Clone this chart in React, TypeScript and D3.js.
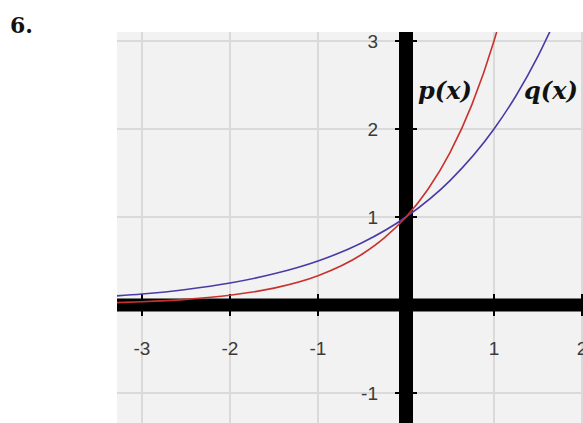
import React from "react";
import * as d3 from "d3";

// readings
const xTicks = [-3, -2, -1, 1, 2];
const yTicks = [-1, 1, 2, 3];
const gridX = [-3, -2, -1, 0, 1, 2];
const gridY = [-1, 0, 1, 2, 3];

const pX = [-3.3, -3, -2.5, -2, -1.5, -1, -0.5, -0.25, 0, 0.25, 0.5, 0.75, 1, 1.05];
const pY = [0.027, 0.037, 0.064, 0.111, 0.192, 0.333, 0.577, 0.76, 1, 1.316, 1.732, 2.28, 3, 3.17];

const qX = [-3.3, -3, -2.5, -2, -1.5, -1, -0.5, 0, 0.5, 1, 1.25, 1.5, 1.66];
const qY = [0.102, 0.125, 0.177, 0.25, 0.354, 0.5, 0.707, 1, 1.414, 2, 2.378, 2.828, 3.16];

const W = 583;
const H = 423;
const plot = { left: 117, top: 32, right: 583, bottom: 423 };

export default function App() {
  const x = d3.scaleLinear().domain([0, 1]).range([406, 494]);
  const y = d3.scaleLinear().domain([0, 1]).range([305, 217]);

  const line = d3
    .line<[number, number]>()
    .x(d => x(d[0]))
    .y(d => y(d[1]))
    .curve(d3.curveMonotoneX);

  const pData = pX.map((v, i) => [v, pY[i]] as [number, number]);
  const qData = qX.map((v, i) => [v, qY[i]] as [number, number]);

  const tickFont = "'Liberation Sans', Arial, sans-serif";

  return (
    <svg
      width={W}
      height={H}
      style={{ position: "absolute", left: 0, top: 0, background: "#fff" }}
    >
      <defs>
        <clipPath id="plotClip">
          <rect
            x={plot.left}
            y={plot.top}
            width={plot.right - plot.left}
            height={plot.bottom - plot.top}
          />
        </clipPath>
      </defs>

      <text
        x={10}
        y={33}
        fontFamily="'DejaVu Serif', serif"
        fontWeight="bold"
        fontSize={22}
        fill="#111"
      >
        6.
      </text>

      <g clipPath="url(#plotClip)">
        <rect
          x={plot.left}
          y={plot.top}
          width={plot.right - plot.left}
          height={plot.bottom - plot.top}
          fill="#f2f2f2"
        />
        {gridX.map(t => (
          <line
            key={"gx" + t}
            x1={x(t)}
            x2={x(t)}
            y1={plot.top}
            y2={plot.bottom}
            stroke="#dadada"
            strokeWidth={2}
          />
        ))}
        {gridY.map(t => (
          <line
            key={"gy" + t}
            x1={plot.left}
            x2={plot.right}
            y1={y(t)}
            y2={y(t)}
            stroke="#dadada"
            strokeWidth={2}
          />
        ))}

        {/* thick axes */}
        <line x1={plot.left} x2={plot.right} y1={y(0)} y2={y(0)} stroke="#000" strokeWidth={13} />
        <line x1={x(0)} x2={x(0)} y1={plot.top} y2={plot.bottom} stroke="#000" strokeWidth={14} />

        {yTicks.map(t => (
          <line
            key={"ty" + t}
            x1={x(0) - 11}
            x2={x(0) + 11}
            y1={y(t)}
            y2={y(t)}
            stroke="#000"
            strokeWidth={2}
          />
        ))}
        {xTicks.map(t => (
          <line
            key={"tx" + t}
            x1={x(t)}
            x2={x(t)}
            y1={y(0) - 11}
            y2={y(0) + 11}
            stroke="#000"
            strokeWidth={2}
          />
        ))}

        {xTicks.map(t => (
          <text
            key={"lx" + t}
            x={x(t)}
            y={355}
            textAnchor="middle"
            fontFamily={tickFont}
            fontSize={19}
            fill="#3a3a3a"
          >
            {t < 0 ? "-" + Math.abs(t) : t}
          </text>
        ))}
        {yTicks.map(t => (
          <text
            key={"ly" + t}
            x={378}
            y={y(t) + 7}
            textAnchor="end"
            fontFamily={tickFont}
            fontSize={19}
            fill="#3a3a3a"
          >
            {t < 0 ? "-" + Math.abs(t) : t}
          </text>
        ))}

        <path d={line(qData) || ""} fill="none" stroke="#4a3aa6" strokeWidth={1.6} />
        <path d={line(pData) || ""} fill="none" stroke="#c8322e" strokeWidth={1.6} />
      </g>

      <text
        x={418}
        y={99}
        fontFamily="'DejaVu Serif', serif"
        fontWeight="bold"
        fontStyle="italic"
        fontSize={24}
        fill="#111"
      >
        p(x)
      </text>
      <text
        x={524}
        y={99}
        fontFamily="'DejaVu Serif', serif"
        fontWeight="bold"
        fontStyle="italic"
        fontSize={24}
        fill="#111"
      >
        q(x)
      </text>
    </svg>
  );
}
